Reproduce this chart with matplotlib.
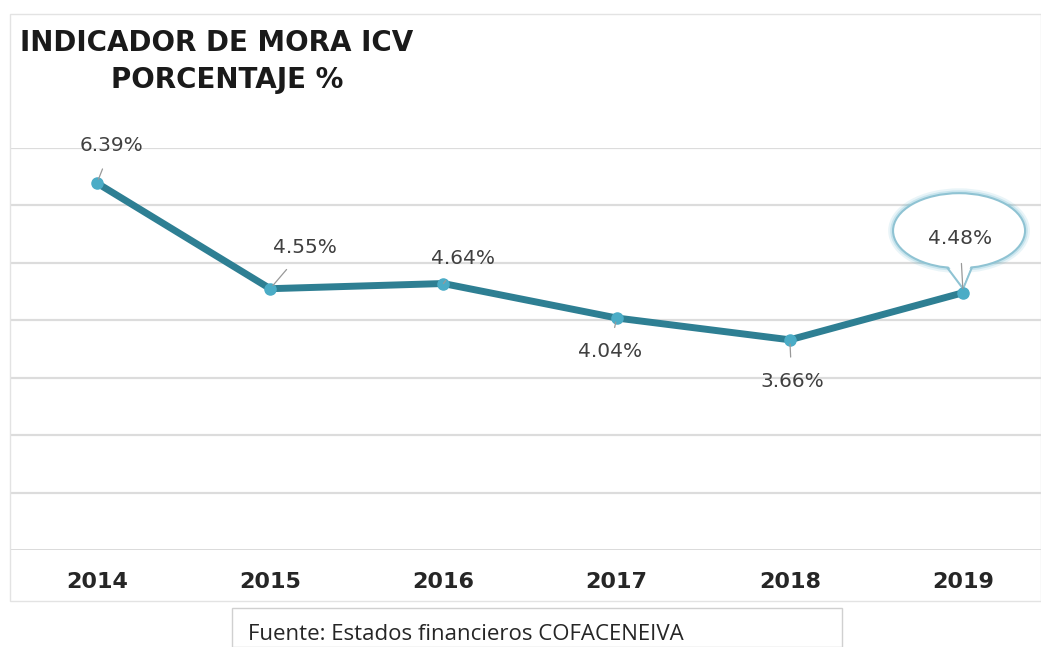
import numpy as np
import matplotlib.pyplot as plt
from matplotlib.patches import Ellipse, Polygon, Rectangle

years = ["2014", "2015", "2016", "2017", "2018", "2019"]
icv = [6.39, 4.55, 4.64, 4.04, 3.66, 4.48]
labels = ["6.39%", "4.55%", "4.64%", "4.04%", "3.66%", "4.48%"]

# label offsets in pixels from each point
offsets = [(15, 38), (35, 41), (20, 25), (-7, -34), (2, -42), (-3, 54)]

plt.rcParams['font.family'] = ['DejaVu Sans']

fig = plt.figure(figsize=(10.41, 6.47), dpi=100)
fig.patch.set_facecolor('white')

# outer chart border
fig.add_artist(Rectangle((10 / 1041, 1 - 601 / 647), 1031 / 1041, 587 / 647,
                         transform=fig.transFigure, fill=False,
                         edgecolor='#E3E3E3', linewidth=1))

ax = fig.add_axes([10 / 1041, 1 - 550 / 647, 1031 / 1041, 402 / 647])
x = np.arange(len(years))

for gy in range(1, 8):
    ax.axhline(gy, color='#DCDCDC', linewidth=1.6, zorder=0)
ax.axhline(0, color='#D0D0D0', linewidth=1.8, zorder=0)

ax.plot(x, icv, color='#2E7F93', linewidth=5, solid_capstyle='round', zorder=3)
ax.plot(x, icv, 'o', markersize=8, color='#4BACC6', zorder=4)

for i, (xi, yi) in enumerate(zip(x, icv)):
    dx, dy = offsets[i]
    ax.annotate(labels[i], (xi, yi), xytext=(dx, dy), textcoords='offset pixels',
                ha='center', va='center', fontsize=14.5, color='#404040',
                arrowprops=dict(arrowstyle='-', color='#999999', lw=0.9,
                                shrinkA=9, shrinkB=3), zorder=5)

# callout around the last label
px_x = 173.2
px_y = 57.4
cx = x[-1] - 4 / px_x
cy = icv[-1] + 62 / px_y
w = 132 / px_x
h = 75 / px_y
for lw, a in [(7, 0.12), (4, 0.2)]:
    ax.add_patch(Ellipse((cx, cy), w, h, fill=False, edgecolor='#4BACC6',
                         linewidth=lw, alpha=a, zorder=2))
tail = Polygon([(cx - 14 / px_x, cy - 34 / px_y), (x[-1], icv[-1] + 4 / px_y),
                (cx + 14 / px_x, cy - 34 / px_y)], closed=True,
               facecolor='white', edgecolor='#8FC3D3', linewidth=1.5, zorder=2)
ax.add_patch(tail)
ax.add_patch(Ellipse((cx, cy), w, h, facecolor='white', edgecolor='#8FC3D3',
                     linewidth=1.5, zorder=2))
# hide the edge where tail meets the ellipse
ax.add_patch(Polygon([(cx - 12.5 / px_x, cy - 33 / px_y), (x[-1], icv[-1] + 7 / px_y),
                      (cx + 12.5 / px_x, cy - 33 / px_y)], closed=True,
                     facecolor='white', edgecolor='none', zorder=2))

ax.set_xlim(-0.502, 5.45)
ax.set_ylim(0, 7)
ax.set_xticks(x)
ax.set_xticklabels(years, fontsize=16, fontweight='bold', color='#262626')
ax.tick_params(axis='x', length=0, pad=16)
ax.set_yticks([])
for s in ax.spines.values():
    s.set_visible(False)
ax.set_facecolor('none')

fig.text(20 / 1041, 1 - 43 / 647, "INDICADOR DE MORA ICV", fontsize=20,
         fontweight='bold', color='#1A1A1A', va='center', ha='left')
fig.text(227 / 1041, 1 - 80 / 647, "PORCENTAJE %", fontsize=20,
         fontweight='bold', color='#1A1A1A', va='center', ha='center')

# source box
fig.add_artist(Rectangle((232 / 1041, 0), 610 / 1041, 39 / 647,
                         transform=fig.transFigure, fill=False,
                         edgecolor='#D0D0D0', linewidth=1))
fig.text(248 / 1041, 1 - 634 / 647, "Fuente: Estados financieros COFACENEIVA",
         fontsize=16, color='#262626', va='center', ha='left',
         family=['Open Sans', 'DejaVu Sans'])

fig.savefig('out.png', dpi=100, facecolor='white')
